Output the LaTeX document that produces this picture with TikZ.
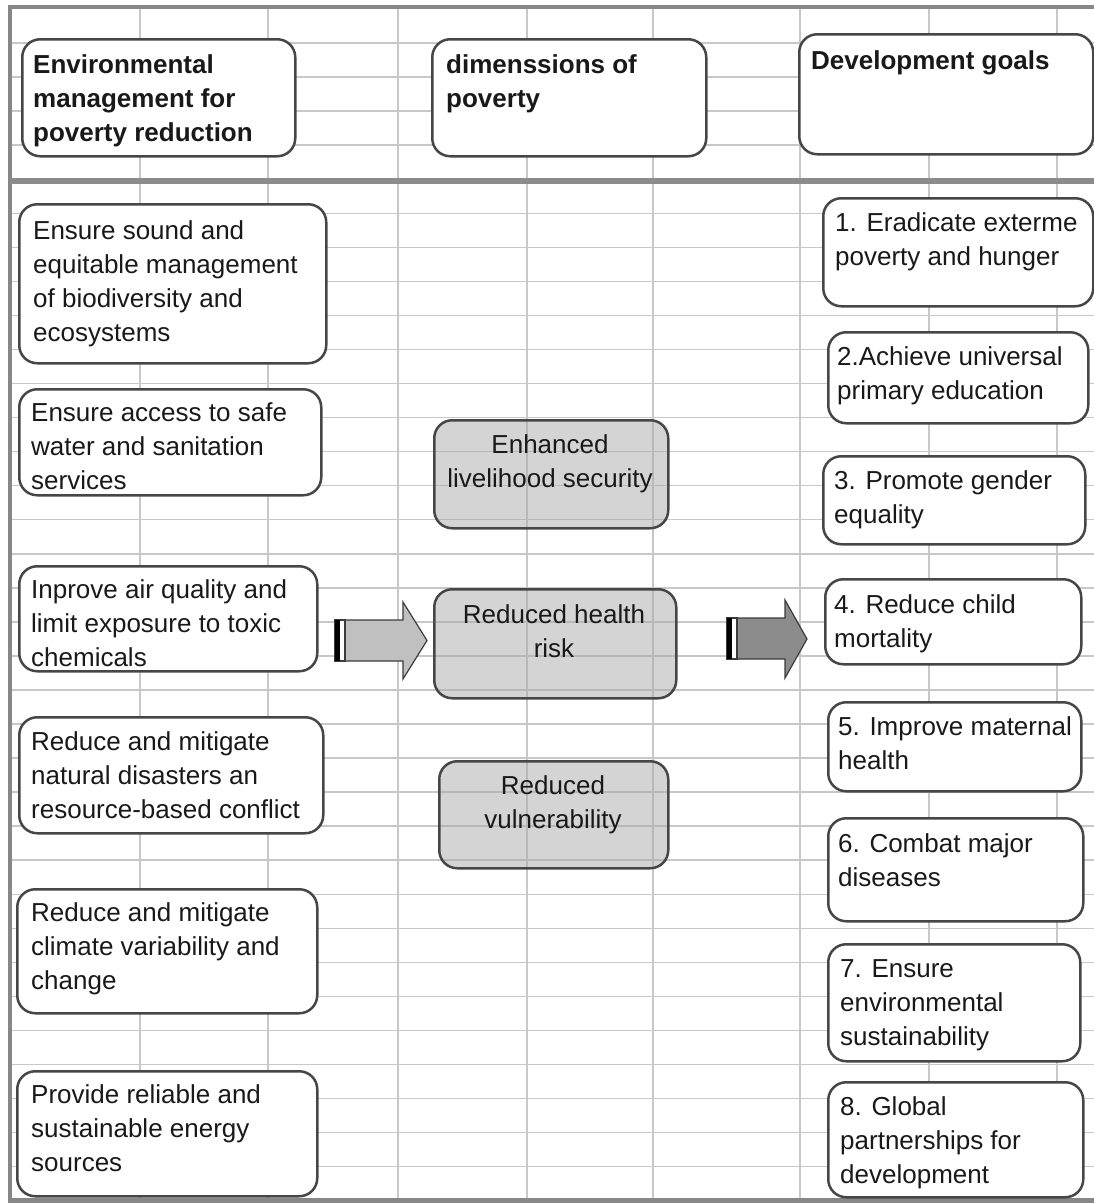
\documentclass[tikz,border=0pt]{standalone}
\usepackage{fontspec}
\setmainfont{Liberation Sans}

\begin{document}
\begin{tikzpicture}[x=1pt,y=-1pt,
    gridline/.style={color={rgb,255:red,200;green,200;blue,200},line width=1.5pt},
    frame/.style={color={rgb,255:red,135;green,135;blue,135},line width=4.5pt},
    box/.style={draw={rgb,255:red,70;green,70;blue,70},line width=2.5pt,rounded corners=18pt,fill=white,anchor=north west,inner sep=0pt},
    greybox/.style={box,fill={rgb,255:red,170;green,170;blue,170},fill opacity=0.5},
    txt/.style={anchor=north west,inner sep=0pt,align=left,text={rgb,255:red,25;green,25;blue,25},font=\fontsize{26}{34}\selectfont},
    headtxt/.style={txt,font=\fontsize{26}{34}\selectfont\bfseries},
    midtxt/.style={txt,anchor=north,align=center},
    blockarrow/.style={draw={rgb,255:red,60;green,60;blue,60},line width=1.2pt}
]
    \useasboundingbox (0,0) rectangle (1094,1203);

    %sheet grid
    \foreach \gx in {140,268,398,527,653,800,929,1057}
        \draw[gridline] (\gx,7) -- (\gx,1200);
    \foreach \k in {0,...,33}
        \draw[gridline] (10,{43+34.05*\k}) -- (1094,{43+34.05*\k});
    \draw[frame] (8,7) -- (1094,7);
    \draw[frame] (10,5) -- (10,1203);
    \draw[frame] (8,1200.5) -- (1094,1200.5);
    \draw[color={rgb,255:red,140;green,140;blue,140},line width=6pt] (10,180.5) -- (1094,180.5);

    %header
    \node (h1) [box,minimum width=273,minimum height=117] at (21,38) {};
    \node (h1t) [headtxt] at (33,49.7) {\strut Environmental\\management for\\poverty reduction};
    \node (h2) [box,minimum width=274,minimum height=117] at (431,38) {};
    \node (h2t) [headtxt] at (446,49.7) {\strut dimenssions of\\poverty};
    \node (h3) [box,minimum width=294,minimum height=120] at (798,33) {};
    \node (h3t) [headtxt] at (811,45.7) {\strut Development goals};

    %environmental management
    \node (l1) [box,minimum width=307,minimum height=159] at (18,203) {};
    \node (l1t) [txt] at (33,215.7) {\strut Ensure sound and\\equitable management\\of biodiversity and\\ecosystems};
    \node (l2) [box,minimum width=302,minimum height=106] at (18,388) {};
    \node (l2t) [txt] at (31,397.7) {\strut Ensure access to safe\\water and sanitation\\services};
    \node (l3) [box,minimum width=298,minimum height=105] at (18,565) {};
    \node (l3t) [txt] at (31,574.7) {\strut Inprove air quality and\\limit exposure to toxic\\chemicals};
    \node (l4) [box,minimum width=304,minimum height=116] at (18,716) {};
    \node (l4t) [txt] at (31,726.7) {\strut Reduce and mitigate\\natural disasters an\\resource-based conflict};
    \node (l5) [box,minimum width=300,minimum height=124] at (16,888) {};
    \node (l5t) [txt] at (31,897.7) {\strut Reduce and mitigate\\climate variability and\\change};
    \node (l6) [box,minimum width=300,minimum height=125] at (16,1070) {};
    \node (l6t) [txt] at (31,1079.7) {\strut Provide reliable and\\sustainable energy\\sources};

    %dimensions of poverty
    \node (m1) [greybox,minimum width=234,minimum height=108] at (433,419) {};
    \node (m1t) [midtxt] at (550,429.7) {\strut Enhanced\\livelihood security};
    \node (m2) [greybox,minimum width=242,minimum height=109] at (433,588) {};
    \node (m2t) [midtxt] at (554,599.7) {\strut Reduced health\\risk};
    \node (m3) [greybox,minimum width=229,minimum height=107] at (438,760) {};
    \node (m3t) [midtxt] at (553,770.7) {\strut Reduced\\vulnerability};

    %development goals
    \node (g1) [box,minimum width=270,minimum height=108] at (822,197) {};
    \node (g1t) [txt] at (835,207.7) {\strut 1. Eradicate exterme\\poverty and hunger};
    \node (g2) [box,minimum width=260,minimum height=91] at (827,331) {};
    \node (g2t) [txt] at (837,341.7) {\strut 2.Achieve universal\\primary education};
    \node (g3) [box,minimum width=262,minimum height=88] at (822,455) {};
    \node (g3t) [txt] at (834,465.7) {\strut 3. Promote gender\\equality};
    \node (g4) [box,minimum width=256,minimum height=85] at (824,578) {};
    \node (g4t) [txt] at (834,589.7) {\strut 4. Reduce child\\mortality};
    \node (g5) [box,minimum width=253,minimum height=89] at (827,701) {};
    \node (g5t) [txt] at (838,711.7) {\strut 5. Improve maternal\\health};
    \node (g6) [box,minimum width=255,minimum height=103] at (827,817) {};
    \node (g6t) [txt] at (838,828.7) {\strut 6. Combat major\\diseases};
    \node (g7) [box,minimum width=252,minimum height=117] at (827,943) {};
    \node (g7t) [txt] at (840,953.7) {\strut 7. Ensure\\environmental\\sustainability};
    \node (g8) [box,minimum width=255,minimum height=115] at (827,1081) {};
    \node (g8t) [txt] at (840,1091.7) {\strut 8. Global\\partnerships for\\development};

    %arrows
    \draw [blockarrow,fill={rgb,255:red,192;green,192;blue,192}] (345,620) -- (403,620) -- (403,602) -- (427,640.5) -- (403,679) -- (403,661) -- (345,661) -- cycle;
    \draw [blockarrow,fill=white] (335,620) rectangle (345,661);
    \fill [black] (335,620) rectangle (340,661);
    \draw [blockarrow,fill={rgb,255:red,140;green,140;blue,140}] (737,618) -- (785,618) -- (785,600) -- (807,639) -- (785,678) -- (785,659) -- (737,659) -- cycle;
    \draw [blockarrow,fill=white] (727,618) rectangle (737,659);
    \fill [black] (727,618) rectangle (732,659);
\end{tikzpicture}
\end{document}
